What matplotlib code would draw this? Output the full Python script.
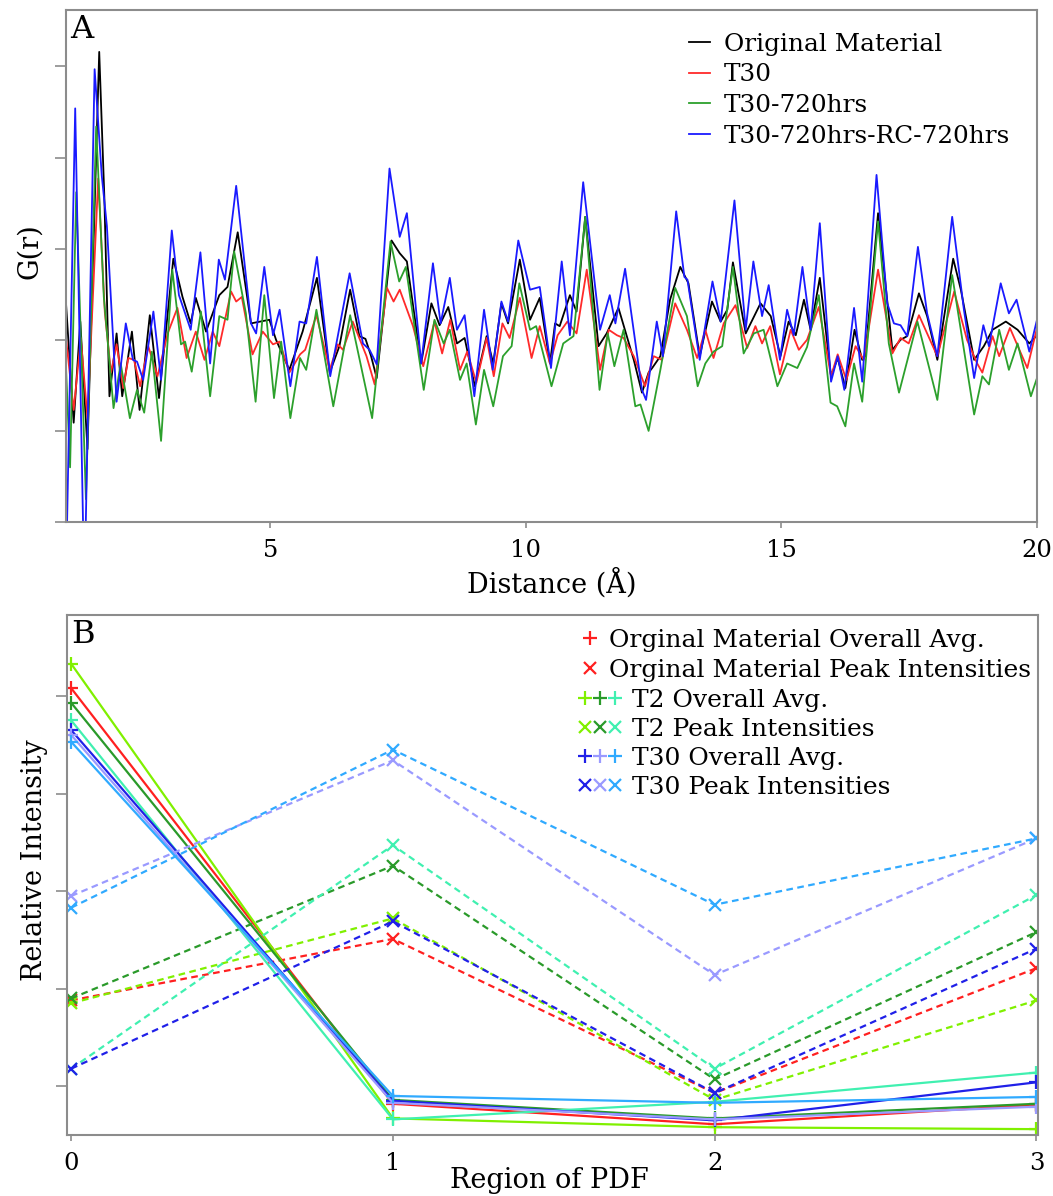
import numpy as np
import matplotlib
matplotlib.use('Agg')
import matplotlib.pyplot as plt
from matplotlib.lines import Line2D
from matplotlib.legend_handler import HandlerTuple

plt.rcParams['font.family'] = ['DejaVu Serif']

# ---- panel A: G(r) (r in Angstrom, G in tick units)
orig_pts = [
    (1.00, 0.40), (1.15, -0.91), (1.28, 0.20), (1.42, -1.20), (1.65, 3.16), (1.75, 1.57),
    (1.85, -0.62), (1.99, 0.07), (2.10, -0.62), (2.29, 0.09), (2.44, -0.77), (2.64, 0.27),
    (2.82, -0.64), (3.10, 0.89), (3.28, 0.47), (3.44, 0.18), (3.54, 0.46), (3.74, 0.09),
    (4.00, 0.49), (4.16, 0.58), (4.36, 1.18), (4.62, 0.18), (4.80, 0.20), (4.98, 0.22),
    (5.11, 0.00), (5.37, -0.33), (5.63, 0.09), (5.91, 0.68), (6.16, -0.36), (6.35, -0.07),
    (6.56, 0.55), (6.74, 0.04), (6.86, 0.01), (6.97, -0.18), (7.08, -0.42), (7.37, 1.09),
    (7.53, 0.95), (7.67, 0.86), (7.95, -0.26), (8.15, 0.40), (8.31, 0.16), (8.48, 0.36),
    (8.65, -0.04), (8.80, 0.02), (9.00, -0.51), (9.23, 0.04), (9.36, -0.26), (9.52, 0.40),
    (9.65, 0.18), (9.88, 0.88), (10.08, 0.22), (10.27, 0.46), (10.47, -0.26), (10.57, 0.18),
    (10.66, 0.15), (10.86, 0.49), (10.99, 0.31), (11.16, 1.35), (11.42, -0.07), (11.58, 0.07),
    (11.81, 0.35), (12.11, -0.22), (12.27, -0.58), (12.40, -0.36), (12.47, -0.31), (12.63, -0.18),
    (12.82, 0.44), (13.02, 0.80), (13.18, 0.62), (13.40, -0.18), (13.64, 0.42), (13.81, 0.20),
    (13.94, 0.33), (14.05, 0.85), (14.30, 0.07), (14.59, 0.40), (14.79, 0.26), (14.98, -0.18),
    (15.14, 0.20), (15.28, 0.05), (15.44, 0.44), (15.57, 0.11), (15.75, 0.68), (15.97, -0.40),
    (16.10, -0.20), (16.25, -0.53), (16.43, 0.11), (16.58, -0.22), (16.64, -0.18), (16.89, 1.39),
    (17.17, -0.11), (17.33, 0.00), (17.46, 0.04), (17.69, 0.51), (17.85, 0.26), (18.05, -0.22),
    (18.36, 0.89), (18.51, 0.55), (18.77, -0.22), (18.96, -0.07), (19.13, 0.11), (19.39, 0.20),
    (19.62, 0.11), (19.85, -0.04), (20.00, 0.05),
]

t30_pts = [
    (1.00, 0.02), (1.15, -0.77), (1.29, 0.02), (1.42, -0.86), (1.63, 1.77), (1.76, 0.30),
    (1.88, -0.36), (1.99, -0.05), (2.12, -0.53), (2.22, -0.20), (2.33, -0.22), (2.45, -0.51),
    (2.61, -0.07), (2.79, -0.40), (2.99, 0.07), (3.18, 0.35), (3.36, -0.20), (3.54, 0.09),
    (3.71, -0.22), (3.87, 0.09), (4.00, -0.07), (4.23, 0.53), (4.33, 0.42), (4.44, 0.47),
    (4.65, -0.16), (4.85, 0.09), (5.05, -0.05), (5.18, -0.02), (5.37, -0.36), (5.58, -0.16),
    (5.68, -0.11), (5.90, 0.27), (6.16, -0.33), (6.32, -0.05), (6.42, -0.11), (6.61, 0.20),
    (6.88, -0.18), (7.04, -0.49), (7.28, 0.57), (7.41, 0.42), (7.53, 0.55), (7.79, 0.15),
    (7.99, -0.29), (8.21, 0.20), (8.36, -0.15), (8.52, 0.22), (8.71, -0.33), (8.85, -0.13),
    (9.03, -0.47), (9.23, 0.02), (9.37, -0.40), (9.54, 0.18), (9.68, 0.02), (9.88, 0.46),
    (10.11, -0.20), (10.27, 0.15), (10.47, -0.26), (10.62, 0.05), (10.81, 0.20), (10.99, 0.07),
    (11.19, 0.77), (11.45, -0.33), (11.62, 0.11), (11.78, 0.05), (11.91, 0.02), (12.11, -0.18),
    (12.33, -0.51), (12.50, -0.18), (12.66, -0.22), (12.92, 0.40), (13.15, 0.11), (13.35, -0.20),
    (13.51, 0.11), (13.67, -0.20), (13.87, 0.18), (14.10, 0.38), (14.33, -0.09), (14.49, 0.15),
    (14.62, -0.04), (14.78, 0.15), (14.97, -0.38), (15.18, 0.11), (15.34, -0.11), (15.50, 0.00),
    (15.73, 0.36), (15.97, -0.40), (16.10, -0.16), (16.27, -0.44), (16.45, -0.07), (16.61, -0.22),
    (16.89, 0.77), (17.17, -0.15), (17.33, 0.02), (17.49, -0.04), (17.69, 0.27), (18.05, -0.18),
    (18.38, 0.53), (18.63, 0.00), (18.83, -0.26), (18.93, -0.36), (19.13, 0.04), (19.26, -0.18),
    (19.47, 0.13), (19.81, -0.31), (20.00, 0.13),
]

t30_720_pts = [
    (1.00, -0.30), (1.08, -1.40), (1.20, 1.62), (1.39, -1.75), (1.59, 2.34), (1.74, 0.47),
    (1.93, -0.75), (2.07, -0.26), (2.25, -0.86), (2.39, -0.55), (2.53, -0.80), (2.68, -0.13),
    (2.86, -1.11), (3.08, 0.77), (3.25, -0.05), (3.33, -0.02), (3.46, -0.35), (3.64, 0.31),
    (3.82, -0.62), (4.00, 0.26), (4.16, 0.22), (4.29, 0.97), (4.52, 0.29), (4.71, -0.68),
    (4.88, 0.49), (5.07, -0.64), (5.21, -0.02), (5.39, -0.86), (5.58, -0.20), (5.70, -0.33),
    (5.90, 0.33), (6.23, -0.73), (6.56, 0.27), (6.99, -0.86), (7.35, 1.08), (7.52, 0.64),
    (7.65, 0.80), (8.00, -0.55), (8.21, 0.22), (8.39, -0.04), (8.51, 0.11), (8.71, -0.44),
    (8.84, -0.26), (9.02, -0.93), (9.18, -0.33), (9.36, -0.73), (9.55, -0.18), (9.72, -0.07),
    (9.87, 0.62), (10.08, 0.11), (10.20, 0.15), (10.50, -0.51), (10.73, -0.04), (10.93, 0.04),
    (11.16, 1.35), (11.44, -0.55), (11.60, 0.07), (11.73, -0.29), (11.91, 0.11), (12.14, -0.73),
    (12.24, -0.71), (12.40, -1.00), (12.53, -0.62), (12.63, -0.33), (12.92, 0.57), (13.15, 0.26),
    (13.36, -0.51), (13.51, -0.26), (13.67, -0.13), (13.84, -0.07), (14.05, 0.80), (14.26, -0.15),
    (14.46, 0.07), (14.65, 0.11), (14.92, -0.51), (15.11, -0.26), (15.31, -0.31), (15.50, -0.08),
    (15.73, 0.49), (15.96, -0.69), (16.09, -0.73), (16.25, -0.95), (16.42, -0.26), (16.58, -0.68),
    (16.89, 1.30), (17.10, -0.04), (17.30, -0.58), (17.66, 0.20), (18.05, -0.66), (18.34, 0.71),
    (18.77, -0.82), (18.93, -0.40), (19.06, -0.49), (19.26, 0.11), (19.45, -0.33), (19.62, -0.04),
    (19.88, -0.62), (20.00, -0.42),
]

rc_pts = [
    (1.00, -2.60), (1.18, 2.54), (1.36, -2.80), (1.56, 2.97), (1.70, 1.80), (1.80, 1.25),
    (1.99, -0.68), (2.17, 0.18), (2.31, -0.22), (2.39, -0.24), (2.51, -0.44), (2.71, 0.31),
    (2.86, -0.44), (3.07, 1.20), (3.21, 0.49), (3.44, 0.11), (3.63, 0.96), (3.82, -0.26),
    (3.99, 0.88), (4.11, 0.66), (4.33, 1.69), (4.62, 0.18), (4.72, 0.07), (4.88, 0.80),
    (5.05, 0.05), (5.18, 0.33), (5.39, -0.51), (5.57, 0.20), (5.70, 0.18), (5.91, 0.91),
    (6.17, -0.40), (6.55, 0.73), (6.81, -0.04), (6.94, -0.11), (7.08, -0.27), (7.33, 1.88),
    (7.53, 1.13), (7.67, 1.39), (7.95, -0.26), (8.18, 0.84), (8.33, 0.18), (8.51, 0.68),
    (8.65, 0.11), (8.80, 0.27), (8.99, -0.62), (9.18, 0.33), (9.35, -0.33), (9.52, 0.42),
    (9.65, 0.20), (9.85, 1.09), (10.08, 0.55), (10.27, 0.58), (10.49, -0.31), (10.70, 0.86),
    (10.86, 0.05), (11.12, 1.73), (11.45, 0.11), (11.64, 0.49), (11.75, 0.18), (11.94, 0.78),
    (12.27, -0.55), (12.35, -0.66), (12.56, 0.20), (12.68, -0.18), (12.94, 1.41), (13.10, 0.69),
    (13.16, 0.66), (13.40, -0.22), (13.65, 0.64), (13.81, 0.20), (14.08, 1.53), (14.30, 0.11),
    (14.45, 0.86), (14.62, 0.26), (14.75, 0.60), (14.97, -0.22), (15.11, 0.33), (15.24, 0.05),
    (15.41, 0.80), (15.57, 0.11), (15.75, 1.28), (15.97, -0.46), (16.10, -0.18), (16.23, -0.55),
    (16.42, 0.35), (16.58, -0.46), (16.86, 1.81), (17.07, 0.40), (17.20, 0.18), (17.33, 0.16),
    (17.46, 0.04), (17.67, 1.02), (17.85, 0.29), (18.05, -0.18), (18.34, 1.35), (18.57, 0.33),
    (18.77, -0.42), (18.95, 0.16), (19.06, -0.07), (19.29, 0.62), (19.45, 0.29), (19.60, 0.44),
    (19.85, -0.13), (20.00, 0.22),
]

pdf_names = ['Original Material', 'T30', 'T30-720hrs', 'T30-720hrs-RC-720hrs']
pdf_colors = ['black', '#ff2a2a', '#2ca02c', '#1a1aff']

# ---- panel B: relative intensity per region
regions = [0, 1, 2, 3]

orig_avg = [5.08, 0.82, 0.61, 0.81]
orig_peak = [1.88, 2.51, 0.93, 2.21]

t2_avg = [
    [5.33, 0.67, 0.58, 0.56],
    [4.93, 0.86, 0.67, 0.82],
    [4.75, 0.66, 0.84, 1.14],
]
t2_peak = [
    [1.85, 2.72, 0.86, 1.88],
    [1.90, 3.26, 1.07, 2.58],
    [1.18, 3.47, 1.18, 2.96],
]
t30_avg = [
    [4.65, 0.85, 0.65, 1.04],
    [4.60, 0.83, 0.66, 0.79],
    [4.53, 0.90, 0.83, 0.89],
]
t30_peak = [
    [1.18, 2.69, 0.93, 2.41],
    [2.95, 4.34, 2.14, 3.54],
    [2.83, 4.45, 2.86, 3.54],
]

red = '#ff2020'
t2_colors = ['#80f000', '#2a9a2a', '#40f0b0']
t30_colors = ['#2020e8', '#9a9aff', '#30aaff']

fig = plt.figure(figsize=(10.53, 11.96), dpi=100)
ax1 = fig.add_axes([66 / 1053, 1 - 522 / 1196, 971 / 1053, 512 / 1196])
ax2 = fig.add_axes([67 / 1053, 1 - 1135 / 1196, 971 / 1053, 520 / 1196])

lab_fs = 19.5
tick_fs = 17.5
spine_c = '#8c8c8c'

for pts, name, c in zip([orig_pts, t30_pts, t30_720_pts, rc_pts], pdf_names, pdf_colors):
    r, g = np.array(pts).T
    ax1.plot(r, g, color=c, lw=1.3, label=name, solid_joinstyle='round')

ax1.set_xlim(1, 20)
ax1.set_ylim(-2, 3.62)
ax1.set_xticks([5, 10, 15, 20])
ax1.set_yticks([-2, -1, 0, 1, 2, 3])
ax1.set_yticklabels([])
ax1.set_xlabel('Distance (Å)', fontsize=lab_fs)
ax1.set_ylabel('G(r)', fontsize=lab_fs)
ax1.xaxis.set_label_coords(0.5, -0.119)
ax1.xaxis.label.set_va('center')
ax1.yaxis.set_label_coords(-0.037, 0.529)
ax1.yaxis.label.set_va('center')
ax1.text(0.004, 0.962, 'A', transform=ax1.transAxes, fontsize=23, ha='left', va='center')
ax1.legend(loc='upper left', bbox_to_anchor=(0.642, 0.956), frameon=False, fontsize=17.8,
           handlelength=0.82, handletextpad=0.58, labelspacing=0.31, borderpad=0, borderaxespad=0)

# panel B lines
ax2.plot(regions, orig_avg, color=red, lw=1.6, marker='+', ms=10, mew=1.6)
ax2.plot(regions, orig_peak, color=red, lw=1.6, ls=(0, (3, 2)), marker='x', ms=8, mew=1.6)
for avg, peak, c in zip(t2_avg, t2_peak, t2_colors):
    ax2.plot(regions, avg, color=c, lw=1.6, marker='+', ms=10, mew=1.6)
    ax2.plot(regions, peak, color=c, lw=1.6, ls=(0, (3, 2)), marker='x', ms=8, mew=1.6)
for avg, peak, c in zip(t30_avg, t30_peak, t30_colors):
    ax2.plot(regions, avg, color=c, lw=1.6, marker='+', ms=10, mew=1.6)
    ax2.plot(regions, peak, color=c, lw=1.6, ls=(0, (3, 2)), marker='x', ms=8, mew=1.6)

ax2.set_xlim(-0.013, 3.005)
ax2.set_ylim(0.5, 5.83)
ax2.set_xticks(regions)
ax2.set_yticks([1, 2, 3, 4, 5])
ax2.set_yticklabels([])
ax2.set_xlabel('Region of PDF', fontsize=lab_fs)
ax2.set_ylabel('Relative Intensity', fontsize=lab_fs)
ax2.xaxis.set_label_coords(0.497, -0.087)
ax2.xaxis.label.set_va('center')
ax2.yaxis.set_label_coords(-0.033, 0.529)
ax2.yaxis.label.set_va('center')
ax2.text(0.004, 0.963, 'B', transform=ax2.transAxes, fontsize=23, ha='left', va='center')


def mk(c, m):
    return Line2D([], [], ls='none', color=c, marker=m, ms=10 if m == '+' else 8, mew=1.6)


leg_fs = 18
leg1 = ax2.legend([mk(red, '+'), mk(red, 'x')],
                  ['Orginal Material Overall Avg.', 'Orginal Material Peak Intensities'],
                  loc='upper left', bbox_to_anchor=(0.528, 0.973), frameon=False, fontsize=leg_fs,
                  handlelength=0.8, handletextpad=0.38, labelspacing=0.26, borderpad=0,
                  borderaxespad=0)
ax2.add_artist(leg1)
h2 = [tuple(mk(c, '+') for c in t2_colors), tuple(mk(c, 'x') for c in t2_colors),
      tuple(mk(c, '+') for c in t30_colors), tuple(mk(c, 'x') for c in t30_colors)]
ax2.legend(h2, ['T2 Overall Avg.', 'T2 Peak Intensities', 'T30 Overall Avg.', 'T30 Peak Intensities'],
           handler_map={tuple: HandlerTuple(ndivide=None, pad=0)},
           loc='upper left', bbox_to_anchor=(0.526, 0.858), frameon=False, fontsize=leg_fs,
           handlelength=1.8, handletextpad=0.36, labelspacing=0.24, borderpad=0, borderaxespad=0)

for ax in (ax1, ax2):
    for s in ax.spines.values():
        s.set_color(spine_c)
        s.set_linewidth(1.5)
    ax.tick_params(axis='y', direction='out', length=8, width=1.2, color=spine_c)
    ax.tick_params(axis='x', direction='out', length=4, width=1.2, color=spine_c,
                   labelsize=tick_fs, pad=8)

fig.savefig('out.png', dpi=100)
